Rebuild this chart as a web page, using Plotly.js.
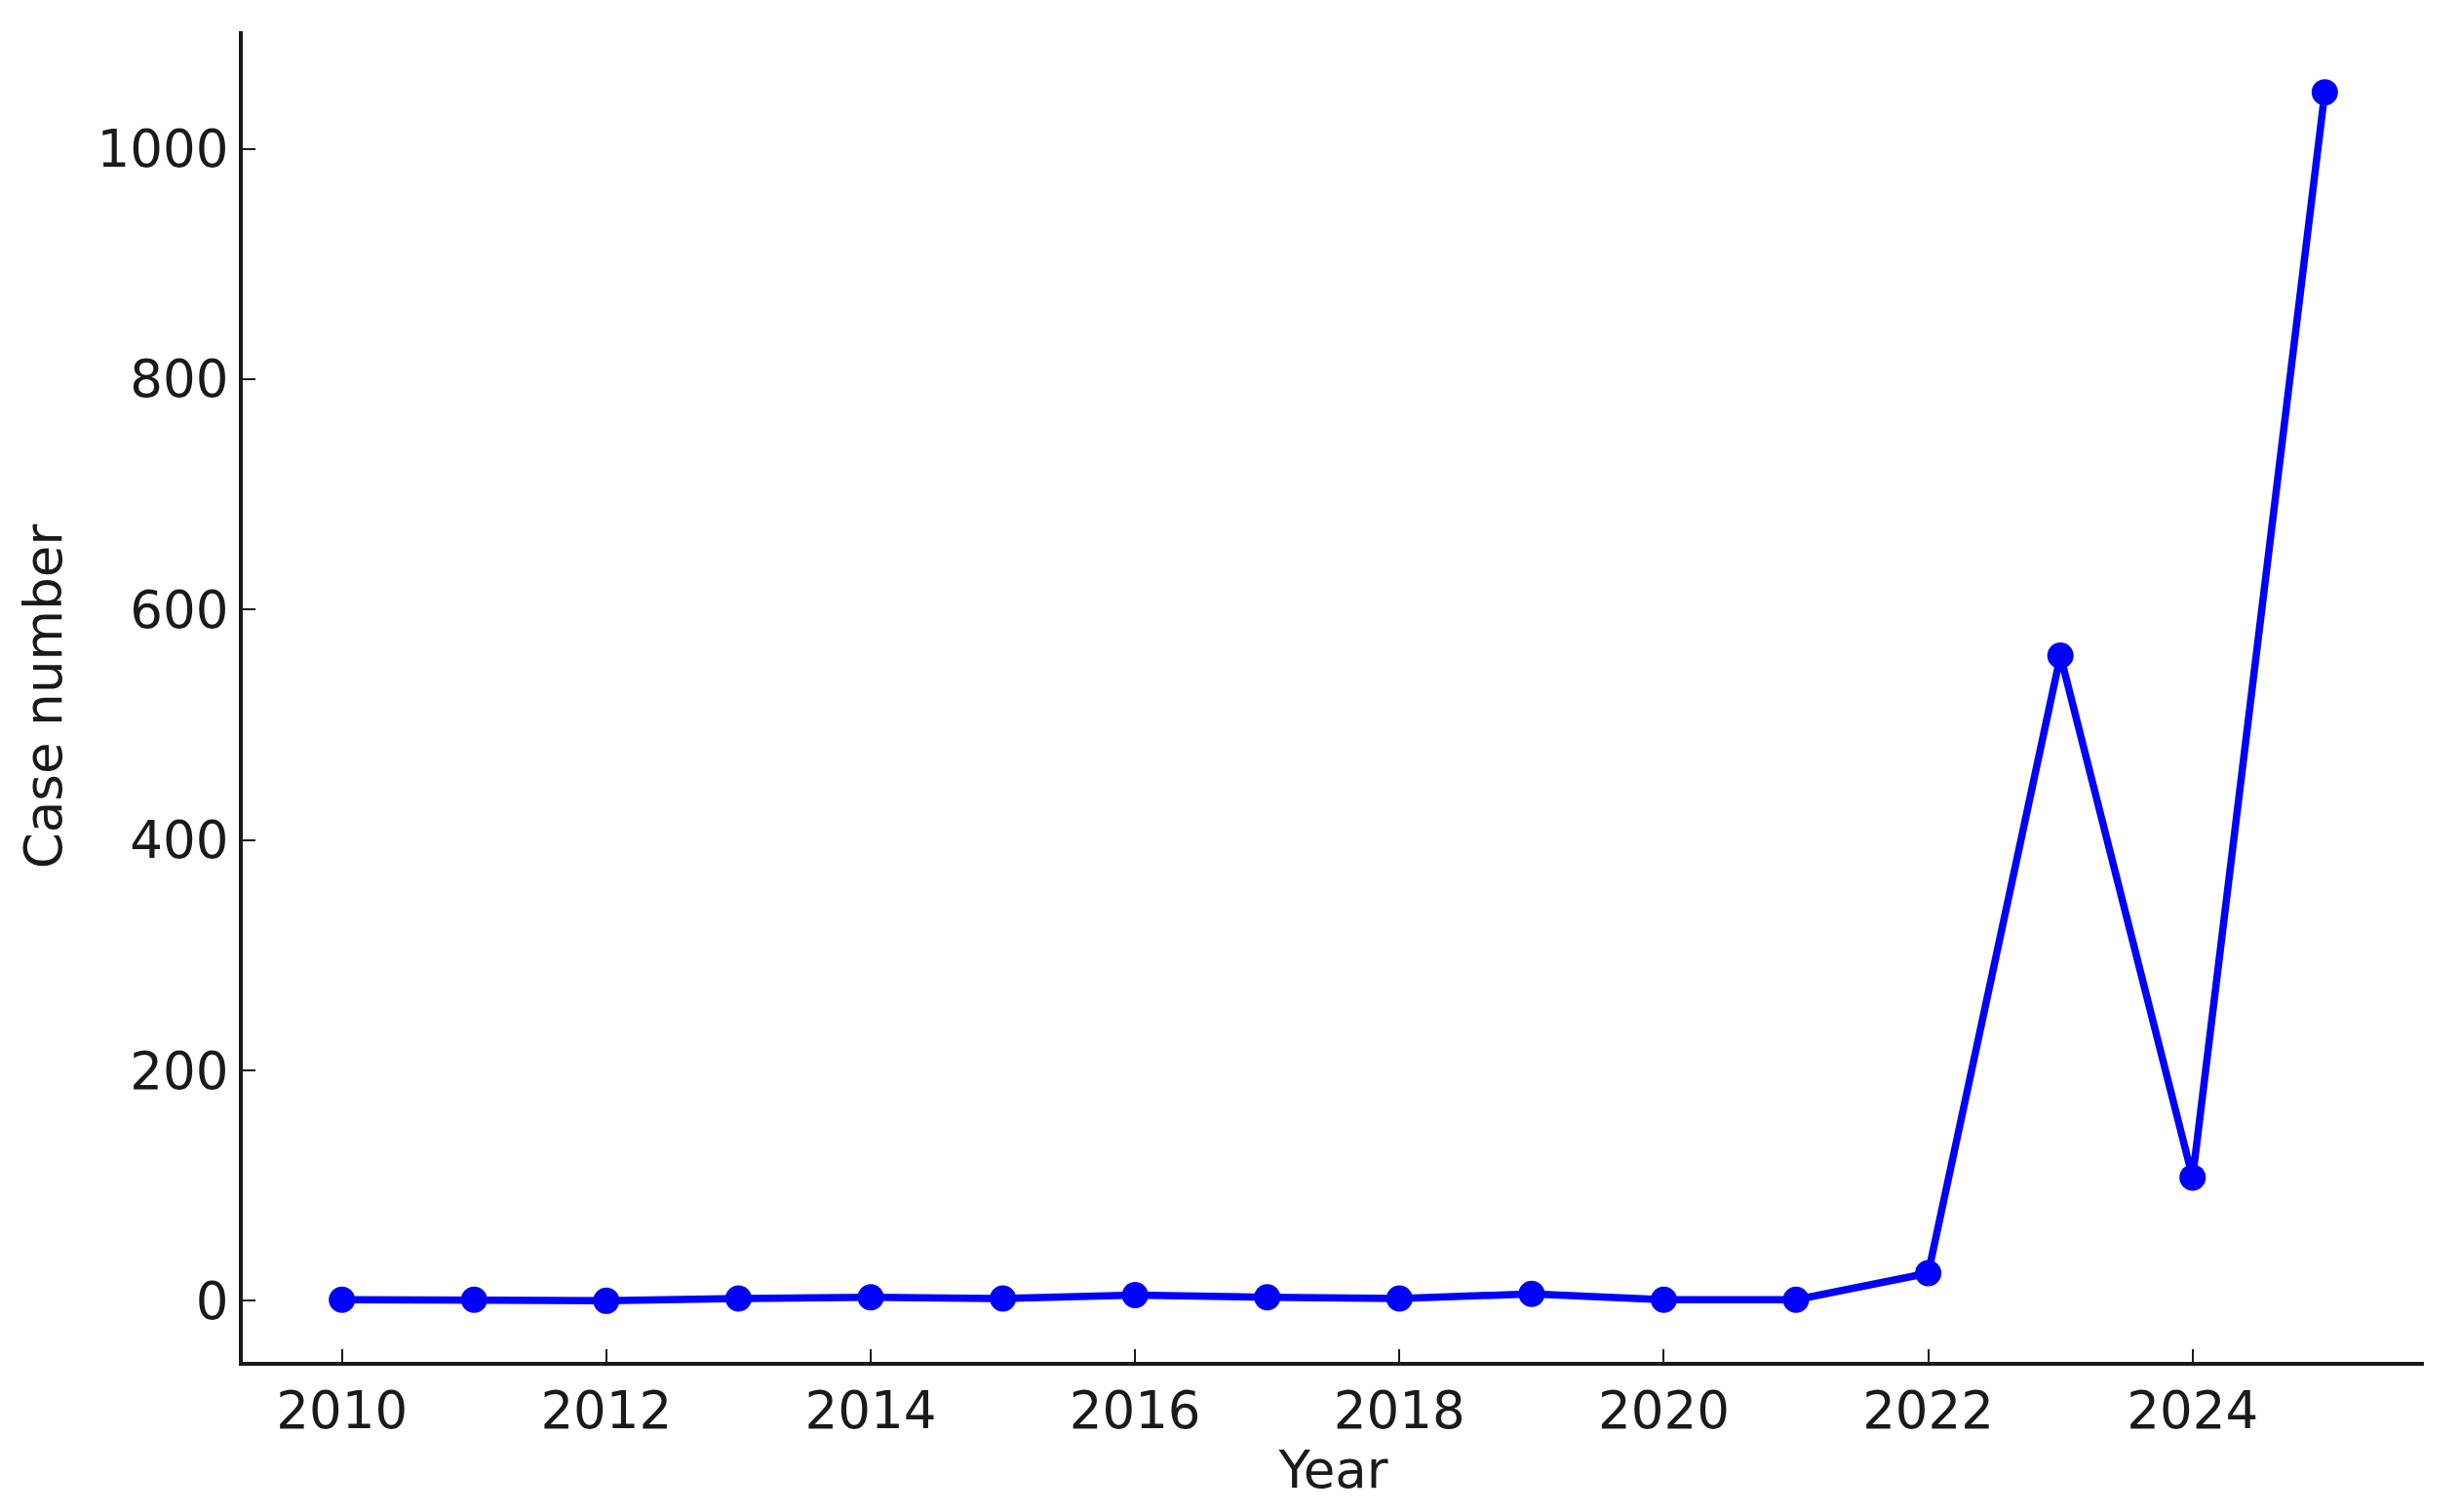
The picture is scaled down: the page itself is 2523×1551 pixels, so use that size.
<script src="https://cdn.plot.ly/plotly-3.0.1.min.js"></script>
<style>
  html, body { margin: 0; padding: 0; background: #fff; }
  #chart { width: 2523px; height: 1551px; }
</style>
<div id="chart"></div>
<script>
  // yearly case counts
  const years = [2010, 2011, 2012, 2013, 2014, 2015, 2016, 2017, 2018, 2019, 2020, 2021, 2022, 2023, 2024, 2025];
  const cases = [1, 1, 0, 2, 3, 2, 5, 3, 2, 6, 1, 1, 24, 560, 107, 1049];

  const xTicks = [2010, 2012, 2014, 2016, 2018, 2020, 2022, 2024];
  const yTicks = [0, 200, 400, 600, 800, 1000];

  const trace = {
    x: years,
    y: cases,
    type: 'scatter',
    mode: 'lines+markers',
    line: { color: '#0000ff', width: 7.5 },
    marker: { color: '#0000ff', size: 27 },
    cliponaxis: false,
    hoverinfo: 'x+y'
  };

  const font = { family: 'DejaVu Sans, sans-serif', size: 53, color: '#1a1a1a' };

  const layout = {
    width: 2523,
    height: 1551,
    margin: { l: 249, r: 37, t: 32, b: 154 },
    paper_bgcolor: '#fff',
    plot_bgcolor: '#fff',
    font: font,
    showlegend: false,
    xaxis: {
      title: { text: 'Year', font: font, standoff: 12 },
      range: [2009.25, 2025.75],
      tickvals: xTicks,
      ticks: 'inside',
      ticklen: 13,
      tickwidth: 2,
      tickcolor: '#1a1a1a',
      showline: true,
      linecolor: '#1a1a1a',
      linewidth: 4,
      showgrid: false,
      zeroline: false,
      tickfont: font
    },
    yaxis: {
      title: { text: 'Case number', font: font, standoff: 20 },
      range: [-53, 1102],
      tickvals: yTicks,
      ticks: 'inside',
      ticklen: 13,
      tickwidth: 2,
      tickcolor: '#1a1a1a',
      showline: true,
      linecolor: '#1a1a1a',
      linewidth: 4,
      showgrid: false,
      zeroline: false,
      tickfont: font
    }
  };

  Plotly.newPlot('chart', [trace], layout, { displayModeBar: false, staticPlot: true });
</script>
